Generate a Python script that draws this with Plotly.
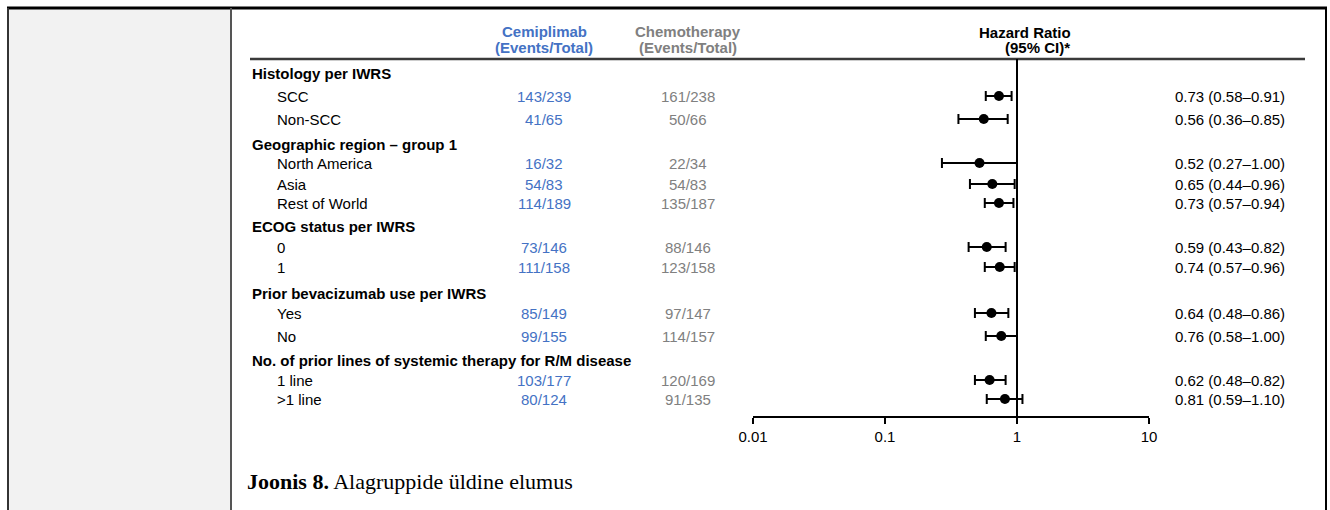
import plotly.graph_objects as go

# ---- data -------------------------------------------------------------
GROUPS = [
    "Histology per IWRS",
    "Geographic region – group 1",
    "ECOG status per IWRS",
    "Prior bevacizumab use per IWRS",
    "No. of prior lines of systemic therapy for R/M disease",
]
SUBGROUPS = ["SCC", "Non-SCC", "North America", "Asia", "Rest of World",
             "0", "1", "Yes", "No", "1 line", ">1 line"]
CEMI_EVENTS = [143, 41, 16, 54, 114, 73, 111, 85, 99, 103, 80]
CEMI_TOTAL = [239, 65, 32, 83, 189, 146, 158, 149, 155, 177, 124]
CHEMO_EVENTS = [161, 50, 22, 54, 135, 88, 123, 97, 114, 120, 91]
CHEMO_TOTAL = [238, 66, 34, 83, 187, 146, 158, 147, 157, 169, 135]
HR = [0.73, 0.56, 0.52, 0.65, 0.73, 0.59, 0.74, 0.64, 0.76, 0.62, 0.81]
HR_LOW = [0.58, 0.36, 0.27, 0.44, 0.57, 0.43, 0.57, 0.48, 0.58, 0.48, 0.59]
HR_HIGH = [0.91, 0.85, 1.00, 0.96, 0.94, 0.82, 0.96, 0.86, 1.00, 0.82, 1.10]
TICK_VALS = [0.01, 0.1, 1, 10]
TICK_TEXT = ["0.01", "0.1", "1", "10"]

# ---- layout (page pixels) ---------------------------------------------
W, H = 1330, 510
GROUP_Y = [73, 144, 226, 293, 360]
SUB_Y = [96, 119, 163, 184, 203, 247, 267, 313, 336, 380, 399]
PLOT_TOP, AXIS_Y = 59, 416
X_LEFT, X_RIGHT = 753, 1149
LABEL_X, SUB_X = 251, 276
CEMI_X, CHEMO_X, HR_TEXT_X = 544, 688, 1286
FS = 15

BLUE = "#4472c4"
GREY = "#808080"
SANS = "Liberation Sans, Arial, sans-serif"
SERIF = "Liberation Serif, Times New Roman, serif"


def px(x):
    return x / W


def py(y):
    return 1 - y / H


fig = go.Figure()

fig.add_trace(go.Scatter(
    x=HR, y=SUB_Y, mode="markers",
    marker=dict(color="black", size=10),
    error_x=dict(type="data", symmetric=False,
                 array=[h - m for h, m in zip(HR_HIGH, HR)],
                 arrayminus=[m - l for m, l in zip(HR, HR_LOW)],
                 color="black", thickness=2, width=5),
    hoverinfo="skip", showlegend=False,
))

annotations = []


def txt(x, y, s, anchor="left", color="black", size=FS, bold=False,
        family=SANS, yref="y"):
    if bold:
        s = f"<b>{s}</b>"
    annotations.append(dict(
        x=px(x), xref="paper", y=y if yref == "y" else py(y), yref=yref,
        text=s, showarrow=False, xanchor=anchor, yanchor="middle",
        font=dict(family=family, size=size, color=color), borderpad=0,
    ))


# column headers
txt(CEMI_X, 31, "Cemiplimab", "center", BLUE, bold=True, yref="paper")
txt(CEMI_X, 47, "(Events/Total)", "center", BLUE, bold=True, yref="paper")
txt(CHEMO_X, 31, "Chemotherapy", "center", GREY, bold=True, yref="paper")
txt(CHEMO_X, 47, "(Events/Total)", "center", GREY, bold=True, yref="paper")
txt(1025, 32, "Hazard Ratio", "center", "black", bold=True, yref="paper")
txt(1037, 47, "(95% CI)*", "center", "black", bold=True, yref="paper")

# group headings
for g, y in zip(GROUPS, GROUP_Y):
    txt(LABEL_X, y, g, bold=True)

# subgroup rows
for i, y in enumerate(SUB_Y):
    txt(SUB_X, y, SUBGROUPS[i])
    txt(CEMI_X, y, f"{CEMI_EVENTS[i]}/{CEMI_TOTAL[i]}", "center", BLUE)
    txt(CHEMO_X, y, f"{CHEMO_EVENTS[i]}/{CHEMO_TOTAL[i]}", "center", GREY)
    txt(HR_TEXT_X, y, f"{HR[i]:.2f} ({HR_LOW[i]:.2f}–{HR_HIGH[i]:.2f})",
        "right")

# caption
annotations.append(dict(
    x=px(245), xref="paper", y=py(481), yref="paper",
    text="<b>Joonis 8.</b> Alagruppide üldine elumus",
    showarrow=False, xanchor="left", yanchor="middle",
    font=dict(family=SERIF, size=22, color="black"),
))

shapes = [
    # grey side cell
    dict(type="rect", xref="paper", yref="paper",
         x0=px(8), x1=px(231), y0=0, y1=py(8),
         fillcolor="#f2f2f2", line=dict(width=0), layer="below"),
    # table borders
    dict(type="line", xref="paper", yref="paper",
         x0=px(7), x1=px(1327), y0=py(8), y1=py(8),
         line=dict(color="black", width=3)),
    dict(type="line", xref="paper", yref="paper",
         x0=px(8), x1=px(8), y0=0, y1=py(8),
         line=dict(color="#333333", width=2)),
    dict(type="line", xref="paper", yref="paper",
         x0=px(231), x1=px(231), y0=0, y1=py(8),
         line=dict(color="#555555", width=2)),
    dict(type="line", xref="paper", yref="paper",
         x0=px(1326), x1=px(1326), y0=0, y1=py(8),
         line=dict(color="black", width=2)),
    # header rule
    dict(type="line", xref="paper", yref="paper",
         x0=px(250), x1=px(1305), y0=py(PLOT_TOP), y1=py(PLOT_TOP),
         line=dict(color="#3a3a3a", width=2.5)),
    # line of no effect
    dict(type="line", xref="x", yref="y",
         x0=1, x1=1, y0=PLOT_TOP, y1=AXIS_Y,
         line=dict(color="black", width=2)),
]

fig.update_layout(
    width=W, height=H,
    margin=dict(l=0, r=0, t=0, b=0, autoexpand=False),
    paper_bgcolor="white", plot_bgcolor="rgba(0,0,0,0)",
    annotations=annotations, shapes=shapes,
    xaxis=dict(
        type="log", range=[-2, 1],
        domain=[px(X_LEFT), px(X_RIGHT)],
        tickvals=TICK_VALS, ticktext=TICK_TEXT,
        showline=True, linecolor="black", linewidth=2,
        ticks="outside", ticklen=6, tickwidth=2, tickcolor="black",
        showgrid=False, zeroline=False, automargin=False,
        tickfont=dict(family=SANS, size=FS, color="black"),
        fixedrange=True,
    ),
    yaxis=dict(
        range=[AXIS_Y, PLOT_TOP], domain=[py(AXIS_Y), py(PLOT_TOP)],
        visible=False, showgrid=False, zeroline=False, fixedrange=True,
        automargin=False,
    ),
)

fig.write_html("out.html", config={"displayModeBar": False})
